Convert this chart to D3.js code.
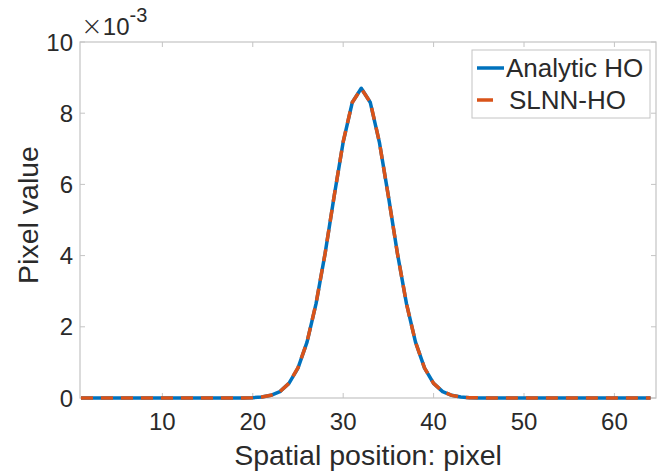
<!DOCTYPE html>
<html><head><meta charset="utf-8">
<script src="https://cdn.jsdelivr.net/npm/d3@7"></script>
<style>
body{margin:0;background:#fff;}
svg{display:block;font-family:"Liberation Sans",Arial,Helvetica,sans-serif;}
</style></head><body>
<svg id="c" width="657" height="475"></svg>
<script>
// Data (values in units of 1e-3)
const positions = d3.range(1, 65);
const analyticHO = [
 0,0,0,0,0,0,0,0,0,0,
 0,0,0,0,0,0,0,0,0.003,0.009,
 0.027,0.075,0.18,0.41,0.84,1.57,2.65,4.06,5.67,7.19,
 8.30,8.70,8.30,7.19,5.67,4.06,2.65,1.57,0.84,0.41,
 0.18,0.075,0.027,0.009,0.003,0,0,0,0,0,
 0,0,0,0,0,0,0,0,0,0,
 0,0,0,0];
const slnnHO = [
 0,0,0,0,0,0,0,0,0,0,
 0,0,0,0,0,0,0,0,0.003,0.009,
 0.028,0.076,0.18,0.41,0.85,1.57,2.66,4.06,5.67,7.20,
 8.30,8.69,8.31,7.19,5.66,4.06,2.65,1.57,0.84,0.41,
 0.18,0.074,0.027,0.009,0.003,0,0,0,0,0,
 0,0,0,0,0,0,0,0,0,0,
 0,0,0,0];
const xTicks = [10,20,30,40,50,60];
const yTicks = [0,2,4,6,8,10];
const seriesNames = ["Analytic HO","SLNN-HO"];

const svg = d3.select("#c");
const L=80, R=656, T=42, B=398;
const x = d3.scaleLinear().domain([1,64.6]).range([81,656]);
const y = d3.scaleLinear().domain([0,10]).range([B,T]);
const axisCol = "#c4c4c4", textCol = "#2a2a2a";

// box
svg.append("rect").attr("x",L).attr("y",T).attr("width",R-L).attr("height",B-T)
  .attr("fill","none").attr("stroke",axisCol).attr("stroke-width",1.2);

// ticks (inward, all four sides)
const tl=5;
xTicks.forEach(t=>{
  svg.append("line").attr("x1",x(t)).attr("x2",x(t)).attr("y1",B).attr("y2",B-tl).attr("stroke",axisCol);
  svg.append("line").attr("x1",x(t)).attr("x2",x(t)).attr("y1",T).attr("y2",T+tl).attr("stroke",axisCol);
  svg.append("text").attr("x",x(t)).attr("y",B+32).attr("text-anchor","middle")
    .attr("font-size",24).attr("fill",textCol).text(t);
});
yTicks.forEach(t=>{
  svg.append("line").attr("x1",L).attr("x2",L+tl).attr("y1",y(t)).attr("y2",y(t)).attr("stroke",axisCol);
  svg.append("line").attr("x1",R).attr("x2",R-tl).attr("y1",y(t)).attr("y2",y(t)).attr("stroke",axisCol);
  svg.append("text").attr("x",L-7).attr("y",y(t)+8.5).attr("text-anchor","end")
    .attr("font-size",24).attr("fill",textCol).text(t);
});

// exponent
const ex = svg.append("text").attr("x",81).attr("y",35).attr("font-size",24).attr("fill",textCol);
ex.append("tspan").attr("font-family","DejaVu Sans").attr("font-size",26).attr("font-weight",300).text("\u00d7");
ex.append("tspan").text("10");
ex.append("tspan").attr("dy",-13).attr("font-size",20).text("-3");

// axis labels
svg.append("text").attr("x",368).attr("y",465).attr("text-anchor","middle")
  .attr("font-size",28.5).attr("fill",textCol).text("Spatial position: pixel");
svg.append("text").attr("transform","translate(38,215) rotate(-90)").attr("text-anchor","middle")
  .attr("font-size",28.5).attr("fill",textCol).text("Pixel value");

// lines
const line = d3.line().x((d,i)=>x(positions[i])).y(d=>y(d));
svg.append("path").datum(analyticHO).attr("d",line).attr("fill","none")
  .attr("stroke","#0072BD").attr("stroke-width",3.5).attr("stroke-linejoin","round");
svg.append("path").datum(slnnHO).attr("d",line).attr("fill","none")
  .attr("stroke","#D95319").attr("stroke-width",3.5).attr("stroke-dasharray","12,8");

// legend
const lg = svg.append("g");
lg.append("rect").attr("x",472).attr("y",50).attr("width",178).attr("height",68)
  .attr("fill","#fff").attr("stroke",axisCol).attr("stroke-width",1);
const cols=["#0072BD","#D95319"], ys=[68,100];
seriesNames.forEach((n,i)=>{
  lg.append("line").attr("x1",477).attr("x2",i===0?504:493).attr("y1",ys[i]).attr("y2",ys[i])
    .attr("stroke",cols[i]).attr("stroke-width",3.5);
  lg.append("text").attr("x",i===0?506:509).attr("y",ys[i]+9).attr("font-size",26)
    .attr("fill",textCol).text(n);
});
</script>
</body></html>
